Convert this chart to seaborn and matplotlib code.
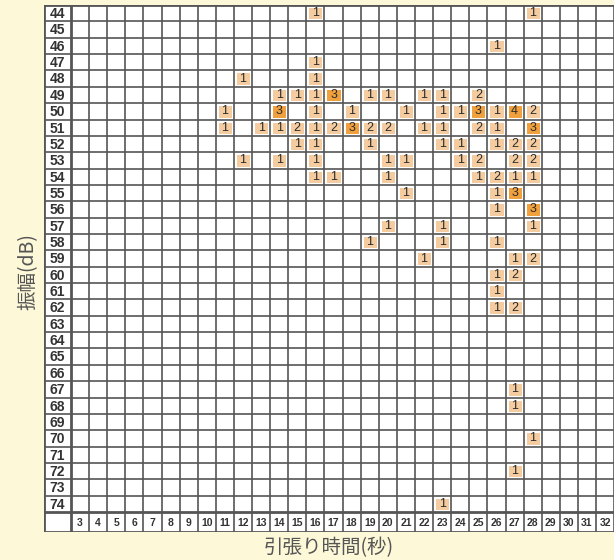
import numpy as np
import pandas as pd
import matplotlib.pyplot as plt
from matplotlib.colors import ListedColormap
import seaborn as sns

plt.rcParams["font.family"] = ["Noto Sans CJK JP", "DejaVu Sans"]

# amplitude rows (dB) and pull-time columns (seconds)
amplitude = list(range(44, 75))
pull_time = list(range(3, 33))

# non-empty cells: amplitude, time, count
cell_amp = [
    44, 44,
    46,
    47,
    48, 48,
    49, 49, 49, 49, 49, 49, 49, 49, 49,
    50, 50, 50, 50, 50, 50, 50, 50, 50, 50, 50,
    51, 51, 51, 51, 51, 51, 51, 51, 51, 51, 51, 51, 51, 51,
    52, 52, 52, 52, 52, 52, 52, 52,
    53, 53, 53, 53, 53, 53, 53, 53, 53,
    54, 54, 54, 54, 54, 54, 54,
    55, 55, 55,
    56, 56,
    57, 57, 57,
    58, 58, 58,
    59, 59, 59,
    60, 60,
    61,
    62, 62,
    67, 68, 70, 72, 74,
]
cell_time = [
    16, 28,
    26,
    16,
    12, 16,
    14, 15, 16, 17, 19, 20, 22, 23, 25,
    11, 14, 16, 18, 21, 23, 24, 25, 26, 27, 28,
    11, 13, 14, 15, 16, 17, 18, 19, 20, 22, 23, 25, 26, 28,
    15, 16, 19, 23, 24, 26, 27, 28,
    12, 14, 16, 20, 21, 24, 25, 27, 28,
    16, 17, 20, 25, 26, 27, 28,
    21, 26, 27,
    26, 28,
    20, 23, 28,
    19, 23, 26,
    22, 27, 28,
    26, 27,
    26,
    26, 27,
    27, 27, 28, 27, 23,
]
cell_count = [
    1, 1,
    1,
    1,
    1, 1,
    1, 1, 1, 3, 1, 1, 1, 1, 2,
    1, 3, 1, 1, 1, 1, 1, 3, 1, 4, 2,
    1, 1, 1, 2, 1, 2, 3, 2, 2, 1, 1, 2, 1, 3,
    1, 1, 1, 1, 1, 1, 2, 2,
    1, 1, 1, 1, 1, 1, 2, 2, 2,
    1, 1, 1, 1, 2, 1, 1,
    1, 1, 3,
    1, 3,
    1, 1, 1,
    1, 1, 1,
    1, 1, 2,
    1, 2,
    1,
    1, 2,
    1, 1, 1, 1, 1,
]

cells = pd.DataFrame({"amp": cell_amp, "time": cell_time, "count": cell_count})
grid = (
    cells.pivot_table(index="amp", columns="time", values="count", aggfunc="sum")
    .reindex(index=amplitude, columns=pull_time)
    .fillna(0)
    .astype(int)
)

bg = "#fdf8d8"
light = "#f5cca0"
dark = "#f0a03c"
line_c = "#555555"

fig = plt.figure(figsize=(6.14, 5.6), dpi=100, facecolor=bg)
ax = fig.add_axes([0.0717, 0.05, 0.93, 0.941])
ax.set_facecolor("white")

cmap = ListedColormap([light, light, dark, dark])
sns.heatmap(
    grid,
    ax=ax,
    mask=grid == 0,
    cmap=cmap,
    vmin=0.5,
    vmax=4.5,
    annot=True,
    fmt="d",
    annot_kws={"color": "#2a2a2a", "fontsize": 9, "family": "Liberation Sans"},
    linewidths=2.5,
    linecolor="white",
    cbar=False,
)

n_rows, n_cols = grid.shape
lab_w = 1.49
bot_h = 1.22
ax.set_xlim(-lab_w, n_cols + 0.05)
ax.set_ylim(n_rows + bot_h, 0)

# grid lines
for y in range(n_rows + 1):
    lw = 2.0 if y in (0, n_rows) else 1.2
    ax.plot([-lab_w, n_cols + 0.05], [y, y], color=line_c, lw=lw, zorder=5)
ax.plot([-lab_w, n_cols + 0.05], [n_rows + bot_h] * 2, color=line_c, lw=2.0, zorder=5)
for x in range(n_cols + 1):
    lw = 2.0 if x == 0 else 1.2
    ax.plot([x, x], [0, n_rows + bot_h], color=line_c, lw=lw, zorder=5)
ax.plot([-lab_w, -lab_w], [0, n_rows + bot_h], color=line_c, lw=2.0, zorder=5)

# row / column labels inside the frame
for i, a in enumerate(grid.index):
    ax.text(-lab_w / 2, i + 0.55, str(a), ha="center", va="center",
            fontsize=10, fontweight="bold", color="#333333", family="Liberation Sans")
for j, t in enumerate(grid.columns):
    ax.text(j + 0.5, n_rows + bot_h / 2 + 0.05, str(t), ha="center", va="center",
            fontsize=7.5, fontweight="bold", color="#333333", family="Liberation Sans")

ax.set_xticks([])
ax.set_yticks([])
ax.set_xlabel("")
ax.set_ylabel("")
for s in ax.spines.values():
    s.set_visible(False)

fig.text(0.046, 0.515, "振幅(dB)", rotation=90, ha="center", va="center",
         fontsize=14, color="#555555")
fig.text(0.535, 0.022, "引張り時間(秒)", ha="center", va="center",
         fontsize=14, color="#555555")

fig.savefig("out.png", dpi=100, facecolor=bg)
